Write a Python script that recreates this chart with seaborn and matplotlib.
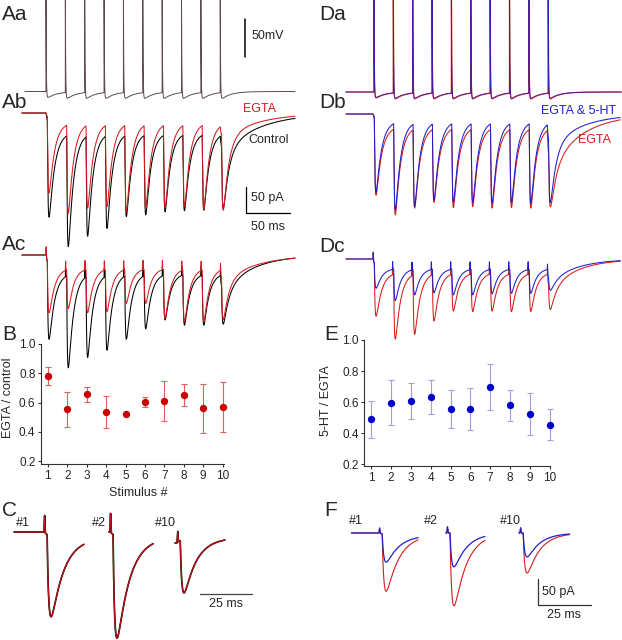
import numpy as np
import pandas as pd
import matplotlib
matplotlib.use("Agg")
import matplotlib.pyplot as plt
import seaborn as sns

# ---------------- values ----------------
# B / E summary ratios
stimulus = [1, 2, 3, 4, 5, 6, 7, 8, 9, 10]
egta_over_control = [0.78, 0.555, 0.655, 0.533, 0.52, 0.605, 0.612, 0.65, 0.56, 0.57]
egta_over_control_sem = [0.062, 0.12, 0.052, 0.11, 0.006, 0.035, 0.135, 0.075, 0.165, 0.168]
ht_over_egta = [0.49, 0.598, 0.608, 0.633, 0.556, 0.556, 0.70, 0.58, 0.523, 0.455]
ht_over_egta_sem = [0.12, 0.145, 0.113, 0.107, 0.122, 0.133, 0.148, 0.098, 0.135, 0.10]

# stimulus train timing (ms)
stim_ms = [0, 22, 44, 66, 88, 110, 132, 154, 176, 198]

# presynaptic action potentials (mV above rest)
ap_peak_mv = 125
ap_ahp_mv = {"Control": 10, "EGTA": 10, "EGTA & 5-HT": 9}
ap_ahp_tau_ms = 11

# EPSC trains: trough of each response (pA), level between responses,
# and the slow tail after the train (amplitude pA, tau ms)
ab_control_pa = [-200, -257, -237, -222, -199, -196, -190, -188, -187, -184]
ab_egta_pa = [-154, -193, -183, -180, -190, -182, -183, -180, -185, -187]
ab_cap_pa = {"Control": -37, "EGTA": -18}
ab_tail = {"Control": (-82, 41), "EGTA": (-54, 39)}

ac_control_pa = [-162, -217, -197, -183, -162, -142, -125, -135, -135, -133]
ac_egta_pa = [-111, -103, -111, -109, -93, -93, -122, -128, -128, -124]
ac_cap_pa = {"Control": -35, "EGTA": -25}
ac_tail = {"Control": (-78, 33), "EGTA": (-56, 38)}

db_egta_pa = [-156, -194, -181, -170, -180, -178, -181, -180, -181, -178]
db_5ht_pa = [-150, -185, -178, -165, -170, -170, -172, -170, -172, -170]
db_cap_pa = {"EGTA": -24, "EGTA & 5-HT": -13}
db_tail = {"EGTA": (-120, 35), "EGTA & 5-HT": (-72, 35)}

dc_egta_pa = [-110, -154, -145, -119, -100, -101, -100, -101, -101, -97]
dc_5ht_pa = [-56, -80, -69, -65, -69, -69, -67, -66, -66, -60]
dc_cap_pa = {"EGTA": -26, "EGTA & 5-HT": -18}
dc_tail = {"EGTA": (-67, 30), "EGTA & 5-HT": (-50, 30)}

# single responses #1, #2, #10 (pA)
sweep_names = ["#1", "#2", "#10"]
c_pre_pa = [0, 0, -21]
c_trough_pa = [-163, -204, -117]
c_end_pa = [-11, -10, -11]
c_artifact_pa = [33, 37, 21]

f_pre_pa = [0, 0, 0]
f_egta_trough_pa = [-112, -140, -77]
f_5ht_trough_pa = [-56, -65, -46]
f_egta_end_pa = [-3, 0, 0]
f_5ht_end_pa = [-4, 0, 0]
f_artifact_pa = [10, 12, 10]

# ---------------- style / layout ----------------
RED = "#d41c1c"
DARK_RED = "#b81218"
BLUE = "#1f1fc8"
W, H = 622, 640
DT = 0.05

sns.set_style("ticks")
plt.rcParams["font.family"] = ["Liberation Sans", "DejaVu Sans"]

RISE, DECAY, DELAY = 0.8, 6.0, 1.5
T_RISE_PEAK = np.log(DECAY / RISE) * RISE * DECAY / (DECAY - RISE)
T_PEAK = DELAY + T_RISE_PEAK


def epsc(tau):
    s = np.clip(tau - DELAY, 0, None)
    k = np.exp(-s / DECAY) - np.exp(-s / RISE)
    norm = np.exp(-T_RISE_PEAK / DECAY) - np.exp(-T_RISE_PEAK / RISE)
    return np.where(tau >= DELAY, k / norm, 0.0)


def artifact(tau, amp, at):
    return amp * np.clip(1 - np.abs(tau - at) / 0.35, 0, None)


def train_current(t, troughs, cap, tail, art=0.0, art_at=0.3):
    tail_amp, tail_tau = tail
    t_last = stim_ms[-1]
    s0 = np.clip(t, 0, None)
    level = np.where(t >= 0, cap * (1 - np.exp(-s0 / 3.0)), 0.0)
    s = np.clip(t - t_last, 0, None)
    after = cap * np.exp(-s / 2.0) + tail_amp * (1 - np.exp(-s / 2.0)) * np.exp(-s / tail_tau)
    y = np.where(t > t_last, after, level)
    for ts, pk in zip(stim_ms, troughs):
        depth = np.interp(ts + T_PEAK, t, y) - pk
        y = y - depth * epsc(t - ts)
    for ts in stim_ms:
        y = y + artifact(t - ts, art, art_at)
    return y


def ap_trace(t, ahp):
    v = np.zeros_like(t)
    for ts in stim_ms:
        s = np.clip(t - ts, 0, None)
        on = t >= ts
        v += np.where(on, ap_peak_mv * np.exp(-s / 0.35)
                      - ahp * (np.exp(-s / ap_ahp_tau_ms) - np.exp(-s / 0.6)), 0)
    return v


def sweep(tau, pre, trough, end, art):
    s = np.clip(tau, 0, None)
    level = np.where(tau > 0, pre + (end - pre) * (1 - np.exp(-s / 2.5)), pre)
    depth = np.interp(T_PEAK, tau, level) - trough
    return level - depth * epsc(tau) + artifact(tau, art, 0.3)


def scaled_axes(fig, origin, scale, xlim, ylim):
    """Axes whose data origin sits at pixel `origin` with `scale` px per unit."""
    ox, oy = origin
    sx, sy = scale
    left, right = ox + xlim[0] * sx, ox + xlim[1] * sx
    top, bottom = oy - ylim[1] * sy, oy - ylim[0] * sy
    ax = fig.add_axes([left / W, 1 - bottom / H, (right - left) / W, (bottom - top) / H])
    ax.set_xlim(xlim)
    ax.set_ylim(ylim)
    ax.axis("off")
    ax.patch.set_alpha(0)
    return ax


def px_text(fig, x, y, s, **kw):
    kw.setdefault("va", "center")
    kw.setdefault("fontsize", 9)
    fig.text(x / W, 1 - y / H, s, **kw)


fig = plt.figure(figsize=(W / 100, H / 100), dpi=100)

# ---------------- Aa / Da : action potentials ----------------
ax = scaled_axes(fig, (46, 91.5), (0.88, 0.76), (-25, 284), (-16, 120.4))
t = np.arange(-24, 283, DT)
ax.plot(t, ap_trace(t, ap_ahp_mv["Control"]), color="#5e4b4b", lw=0.7)
ax.plot([226, 226], [45.4, 95.4], color="black", lw=1.1, clip_on=False)
px_text(fig, 252, 36, "50mV")

ax = scaled_axes(fig, (374, 92), (0.88, 0.76), (-33, 282), (-16, 121))
t = np.arange(-32, 281, DT)
ax.plot(t, ap_trace(t, ap_ahp_mv["EGTA"]), color=RED, lw=0.9)
ax.plot(t, ap_trace(t, ap_ahp_mv["EGTA & 5-HT"]), color=BLUE, lw=0.6, alpha=0.8)

# ---------------- Ab / Ac ----------------
ax = scaled_axes(fig, (46, 113), (0.88, 0.52), (-28, 285), (-285, 30))
t = np.arange(-27.5, 283, DT)
ax.plot(t, train_current(t, ab_control_pa, ab_cap_pa["Control"], ab_tail["Control"], 30, 2.0),
        color="black", lw=0.75)
ax.plot(t, train_current(t, ab_egta_pa, ab_cap_pa["EGTA"], ab_tail["EGTA"], 30, 2.0),
        color=RED, lw=0.75)
ax.plot([227, 227, 277], [-142, -192, -192], color="black", lw=0.9, clip_on=False)
px_text(fig, 243, 109, "EGTA", color=RED)
px_text(fig, 248, 140, "Control")
px_text(fig, 251, 198, "50 pA")
px_text(fig, 251, 227, "50 ms")

ax = scaled_axes(fig, (46, 255), (0.88, 0.52), (-28, 285), (-230, 30))
ax.plot(t, train_current(t, ac_control_pa, ac_cap_pa["Control"], ac_tail["Control"], 18),
        color="black", lw=0.75)
ax.plot(t, train_current(t, ac_egta_pa, ac_cap_pa["EGTA"], ac_tail["EGTA"], 18),
        color=RED, lw=0.75)

# ---------------- Db / Dc ----------------
ax = scaled_axes(fig, (373, 114), (0.88, 0.52), (-33, 283), (-200, 25))
t = np.arange(-30.7, 281, DT)
ax.plot(t, train_current(t, db_egta_pa, db_cap_pa["EGTA"], db_tail["EGTA"], 25, 2.0),
        color=RED, lw=0.75)
ax.plot(t, train_current(t, db_5ht_pa, db_cap_pa["EGTA & 5-HT"], db_tail["EGTA & 5-HT"], 25, 2.0),
        color=BLUE, lw=0.75)
px_text(fig, 541, 111, "EGTA & 5-HT", color=BLUE)
px_text(fig, 578, 140, "EGTA", color=RED)

ax = scaled_axes(fig, (373, 259), (0.88, 0.52), (-33, 283), (-160, 25))
ax.plot(t, train_current(t, dc_egta_pa, dc_cap_pa["EGTA"], dc_tail["EGTA"], 15),
        color=RED, lw=0.75)
ax.plot(t, train_current(t, dc_5ht_pa, dc_cap_pa["EGTA & 5-HT"], dc_tail["EGTA & 5-HT"], 15),
        color=BLUE, lw=0.75)

# ---------------- B / E summary ----------------
def ratio_panel(rect, xlim, ylim, values, sem, dot, bar, ylabel, ylab_pos, xlabel=None):
    left, top, right, bottom = rect
    ax = fig.add_axes([left / W, 1 - bottom / H, (right - left) / W, (bottom - top) / H])
    df = pd.DataFrame({"stimulus": stimulus, "ratio": values, "sem": sem})
    eb = ax.errorbar(df["stimulus"], df["ratio"], yerr=df["sem"], fmt="none",
                     ecolor=bar, elinewidth=0.8, capsize=2.2, capthick=0.8, zorder=2)
    for part in eb.lines[1] + eb.lines[2]:
        part.set_clip_on(False)
    sns.scatterplot(data=df, x="stimulus", y="ratio", ax=ax, color=dot, s=28,
                    linewidth=0, zorder=3, legend=False, clip_on=False)
    ax.set_xlim(xlim)
    ax.set_ylim(ylim)
    ax.set_xticks(stimulus)
    ax.set_yticks([0.2, 0.4, 0.6, 0.8, 1.0])
    ax.set_yticklabels(["0.2", "0.4", "0.6", "0.8", "1.0"])
    ax.tick_params(labelsize=8.5, length=2.5, width=0.8, pad=1.5, color="#333333")
    sns.despine(ax=ax)
    for sp in ("left", "bottom"):
        ax.spines[sp].set_linewidth(0.8)
        ax.spines[sp].set_color("#333333")
    ax.set_ylabel(ylabel, fontsize=9)
    ax.yaxis.set_label_coords(*ylab_pos)
    if xlabel:
        ax.set_xlabel(xlabel, fontsize=9)
        ax.xaxis.set_label_coords(0.53, -0.19)
    else:
        ax.set_xlabel("")
    ax.patch.set_alpha(0)
    return ax


ratio_panel((41, 344, 224, 464), (0.65, 10.07), (0.18, 1.0), egta_over_control,
            egta_over_control_sem, "#cc0000", "#e06060", "EGTA / control",
            (-0.15, 0.55), "Stimulus #")
ratio_panel((364.3, 340, 550, 466), (0.647, 10.02), (0.19, 1.0), ht_over_egta,
            ht_over_egta_sem, "#0000cc", "#a0a0ea", "5-HT / EGTA", (-0.174, 0.52))

# ---------------- C / F single responses ----------------
c_offsets = [0, 31.7, 64]
c_windows = [(-14.4, 19.2), (-0.5, 20.8), (-1.0, 23.0)]
ax = scaled_axes(fig, (44, 532), (2.08, 0.52), (-16, 110), (-215, 45))
for i in range(3):
    tau = np.arange(c_windows[i][0], c_windows[i][1], DT)
    y = sweep(tau, c_pre_pa[i], c_trough_pa[i], c_end_pa[i], c_artifact_pa[i])
    ax.plot(tau + c_offsets[i], y, color="black", lw=1.2)
    ax.plot(tau + c_offsets[i], y, color=DARK_RED, lw=0.9)
ax.plot([75, 100], [-119, -119], color="#444444", lw=0.9, clip_on=False)
px_text(fig, 226, 604, "25 ms", ha="center")
for name, x in zip(sweep_names, [16, 92, 155]):
    px_text(fig, x, 523, name)

f_offsets = [0, 32, 66.5]
f_windows = [(-13.0, 18.5), (-0.5, 18.0), (-0.5, 23.5)]
ax = scaled_axes(fig, (379, 533), (2.12, 0.52), (-15, 105), (-160, 30))
for i in range(3):
    tau = np.arange(f_windows[i][0], f_windows[i][1], DT)
    ax.plot(tau + f_offsets[i], sweep(tau, f_pre_pa[i], f_egta_trough_pa[i],
                                      f_egta_end_pa[i], f_artifact_pa[i]),
            color=RED, lw=0.8)
    ax.plot(tau + f_offsets[i], sweep(tau, f_pre_pa[i], f_5ht_trough_pa[i],
                                      f_5ht_end_pa[i], f_artifact_pa[i]),
            color=BLUE, lw=0.9)
ax.plot([75, 75, 100], [-89, -139, -139], color="#333333", lw=0.9, clip_on=False)
px_text(fig, 542, 592, "50 pA")
px_text(fig, 564, 615, "25 ms", ha="center")
for name, x in zip(sweep_names, [349, 424, 500]):
    px_text(fig, x, 521, name)

# ---------------- panel letters ----------------
for lab, x, y in [("Aa", 2, 15), ("Ab", 2, 103), ("Ac", 2, 245), ("B", 2, 334),
                  ("C", 2, 510), ("Da", 319, 15), ("Db", 319, 103), ("Dc", 319, 246),
                  ("E", 324, 334), ("F", 324, 510)]:
    px_text(fig, x, y, lab, fontsize=15)

fig.savefig("out.png", dpi=100)
